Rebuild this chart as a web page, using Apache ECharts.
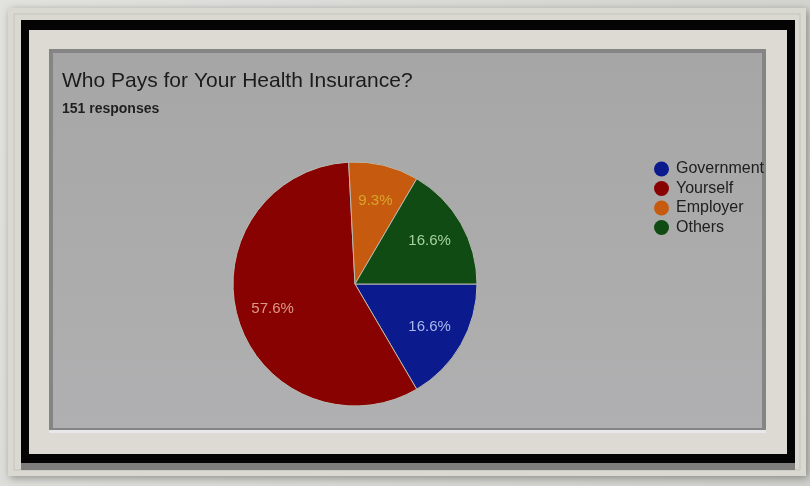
<!DOCTYPE html>
<html>
<head>
<meta charset="utf-8">
<script src="https://cdn.jsdelivr.net/npm/echarts@6/dist/echarts.min.js"></script>
<style>
  html, body { margin: 0; padding: 0; background: #d6d6d2; }
  #chart { width: 810px; height: 486px; }
</style>
</head>
<body>
<div id="chart"></div>
<script>
// Survey answers: who pays for the respondent's health insurance (151 responses)
const categories = ['Government', 'Yourself', 'Employer', 'Others'];
const responses = [25, 87, 14, 25];
const sliceColors = ['#0b1a8c', '#890202', '#c65b0f', '#0f4b12'];
const labelColors = ['#a9b8ea', '#d99a86', '#d6a52c', '#a6d0a0'];
const titleText = 'Who Pays for Your Health Insurance?';
const subtitleText = '151 responses';

const FONT = '"Liberation Sans", Arial, sans-serif';
const total = responses.reduce((a, b) => a + b, 0);
const pieData = categories.map((name, i) => ({
  name,
  value: responses[i],
  itemStyle: { color: sliceColors[i] },
  label: { color: labelColors[i] }
}));

const chart = echarts.init(document.getElementById('chart'), null, { renderer: 'canvas' });

// Picture frame, mat and bevelled grey panel behind the chart
const frame = [
  { type: 'rect', shape: { x: 0, y: 0, width: 810, height: 486 },
    style: { fill: new echarts.graphic.LinearGradient(0, 0, 1, 1, [
      { offset: 0, color: '#e2e2df' }, { offset: 1, color: '#cfcfcb' }]) }, z: -20 },
  { type: 'rect', shape: { x: 8, y: 8, width: 798, height: 468 },
    style: { fill: '#dad9d1', shadowBlur: 8, shadowColor: 'rgba(0,0,0,0.35)', shadowOffsetX: 2, shadowOffsetY: 2 }, z: -19 },
  { type: 'rect', shape: { x: 14, y: 14, width: 786, height: 456 },
    style: { fill: 'none', stroke: '#c4c3bb', lineWidth: 1 }, z: -18 },
  { type: 'rect', shape: { x: 21, y: 22, width: 774, height: 448 },
    style: { fill: '#7d7d7b' }, z: -17 },
  { type: 'rect', shape: { x: 21, y: 20, width: 774, height: 443 },
    style: { fill: '#040404' }, z: -16 },
  { type: 'rect', shape: { x: 29, y: 30, width: 758, height: 424 },
    style: { fill: '#dcdad2' }, z: -15 },
  { type: 'rect', shape: { x: 49, y: 49, width: 717, height: 384 },
    style: { fill: '#e8e8ec' }, z: -14 },
  { type: 'rect', shape: { x: 49, y: 49, width: 717, height: 381 },
    style: { fill: '#858585' }, z: -13 },
  { type: 'rect', shape: { x: 53, y: 53, width: 709, height: 375 },
    style: { fill: new echarts.graphic.LinearGradient(0, 0, 0, 1, [
      { offset: 0, color: '#a6a6a6' }, { offset: 0.5, color: '#ababab' }, { offset: 1, color: '#b0b0b2' }]) }, z: -11 }
];

chart.setOption({
  animation: false,
  backgroundColor: 'transparent',
  graphic: { elements: frame },
  title: {
    text: titleText,
    subtext: subtitleText,
    left: 57,
    top: 66,
    itemGap: 10,
    textStyle: { fontFamily: FONT, fontSize: 21, fontWeight: 'normal', color: '#1b1b1b' },
    subtextStyle: { fontFamily: FONT, fontSize: 14, fontWeight: 'bold', color: '#1f1f1f' }
  },
  legend: {
    orient: 'vertical',
    left: 649,
    top: 156,
    icon: 'circle',
    itemWidth: 15,
    itemHeight: 15,
    itemGap: 3.5,
    data: categories,
    itemStyle: { borderWidth: 0 },
    textStyle: { fontFamily: FONT, fontSize: 16, color: '#202020', padding: [0, 0, 0, 2] }
  },
  series: [
    {
      type: 'pie',
      center: [355, 284],
      radius: [0, 122],
      startAngle: 0,
      clockwise: true,
      data: pieData,
      itemStyle: { borderColor: '#b9b9b0', borderWidth: 1 },
      label: { show: false },
      labelLine: { show: false },
      emphasis: { disabled: true }
    },
    {
      // transparent ring that only carries the percentage labels
      type: 'pie',
      center: [355, 284],
      radius: [44, 122],
      startAngle: 0,
      clockwise: true,
      data: pieData.map(d => ({ name: d.name, value: d.value, label: d.label })),
      itemStyle: { color: 'rgba(0,0,0,0)' },
      label: {
        show: true,
        position: 'inside',
        fontFamily: FONT,
        fontSize: 15,
        formatter: p => (p.value / total * 100).toFixed(1) + '%'
      },
      labelLine: { show: false },
      emphasis: { disabled: true },
      silent: true
    }
  ]
});
</script>
</body>
</html>
